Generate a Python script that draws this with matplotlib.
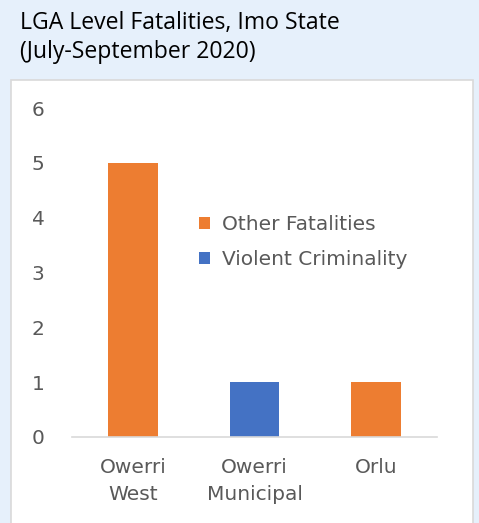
import matplotlib
matplotlib.use('Agg')
from matplotlib import pyplot as plt
from matplotlib.patches import Rectangle, Patch

categories = ['Owerri\nWest', 'Owerri\nMunicipal', 'Orlu']
other_fatalities = [5, 0, 1]
violent_criminality = [0, 1, 0]
series_names = ['Other Fatalities', 'Violent Criminality']
yticks = [0, 1, 2, 3, 4, 5, 6]
title_lines = ['LGA Level Fatalities, Imo State', '(July-September 2020)']

ORANGE = '#ED7D31'
BLUE = '#4472C4'
BG = '#E6F0FB'
TXT = '#595959'

W, H = 479, 523
fig = plt.figure(figsize=(W / 100, H / 100), dpi=100, facecolor=BG)

# white chart panel behind the axes
fig.patches.append(Rectangle((11 / W, -0.01), (473 - 11) / W, (523 - 80) / H + 0.01,
                             transform=fig.transFigure, facecolor='white',
                             edgecolor='#D9D9D9', linewidth=1.2, zorder=-1))

for i, line in enumerate(title_lines):
    fig.text(20 / W, 1 - (29 + 29 * i) / H, line, family='Open Sans', fontsize=16.6,
             color='black', va='baseline', ha='left')

ax = fig.add_axes([72 / W, 1 - 437 / H, (437 - 72) / W, (437 - 108) / H])
ax.set_zorder(1)
ax.set_facecolor('none')
x = range(len(categories))
ax.bar(x, other_fatalities, width=0.41, color=ORANGE, label=series_names[0], zorder=2)
ax.bar(x, violent_criminality, width=0.41, bottom=other_fatalities, color=BLUE,
       label=series_names[1], zorder=2)

ax.set_xlim(-0.5, 2.5)
ax.set_ylim(0, 6)
ax.set_yticks(yticks)
ax.set_xticks(list(x))
ax.set_xticklabels(categories, linespacing=1.55)
for s in ['top', 'right', 'left']:
    ax.spines[s].set_visible(False)
ax.spines['bottom'].set_color('#D9D9D9')
ax.spines['bottom'].set_linewidth(1.2)
ax.tick_params(axis='both', length=0, labelsize=14.5, colors=TXT)
ax.tick_params(axis='y', pad=24.5)
ax.tick_params(axis='x', pad=15)
for lbl in ax.get_yticklabels():
    lbl.set_horizontalalignment('center')

handles = [Patch(facecolor=ORANGE), Patch(facecolor=BLUE)]
fig.legend(handles, series_names, loc='center left',
           bbox_to_anchor=(181 / W, 1 - 242 / H), frameon=False,
           fontsize=14.5, labelcolor=TXT, handlelength=0.55, handleheight=0.55,
           handletextpad=0.6, labelspacing=0.8)

fig.savefig('out.png', dpi=100, facecolor=BG)
